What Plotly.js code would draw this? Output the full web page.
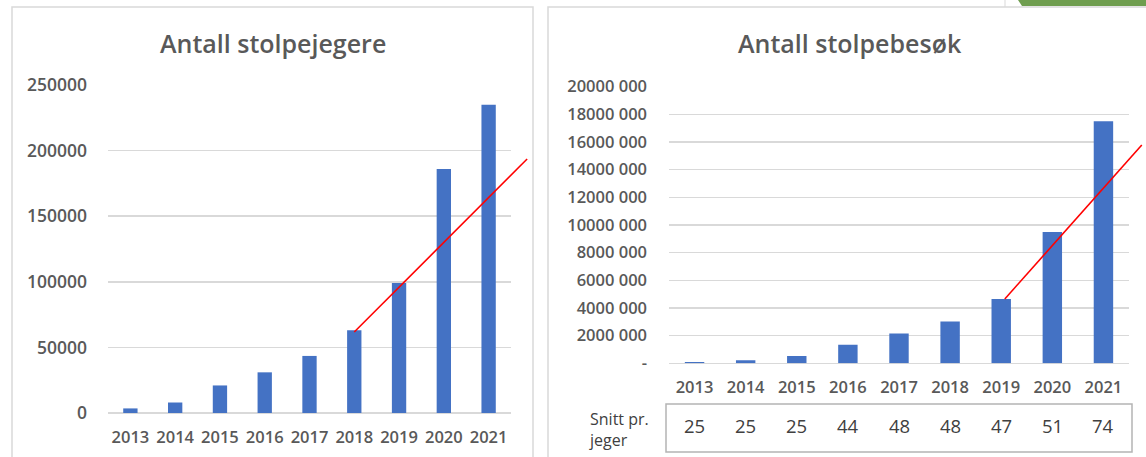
<!DOCTYPE html>
<html>
<head>
<meta charset="utf-8">
<script src="https://cdn.plot.ly/plotly-3.0.1.min.js"></script>
<style>
  html, body { margin: 0; padding: 0; background: #ffffff; }
  #chart { width: 1146px; height: 457px; }
</style>
</head>
<body>
<div id="chart"></div>
<script>
// ---- data ----
const years = [2013, 2014, 2015, 2016, 2017, 2018, 2019, 2020, 2021];
const hunters = [3500, 8000, 21000, 31000, 43500, 63000, 99000, 186000, 235000];
const visits = [90000, 220000, 525000, 1350000, 2150000, 3030000, 4650000, 9500000, 17500000];
const avgPerHunter = [25, 25, 25, 44, 48, 48, 47, 51, 74];

// hand-drawn red trend lines (data units: year, value)
const trendHuntersX = [2018.0, 2021.86];
const trendHuntersY = [61700, 193600];
const trendVisitsX = [2019.07, 2021.75];
const trendVisitsY = [4650000, 15780000];

// tick labels
const leftTickVals = [0, 50000, 100000, 150000, 200000, 250000];
const leftTickText = ["0", "50000", "100000", "150000", "200000", "250000"];
const rightTickVals = [0, 2000000, 4000000, 6000000, 8000000, 10000000, 12000000, 14000000, 16000000, 18000000, 20000000];
const rightTickText = ["-", "2000 000", "4000 000", "6000 000", "8000 000", "10000 000", "12000 000", "14000 000", "16000 000", "18000 000", "20000 000"];

const leftTitle = "Antall stolpejegere";
const rightTitle = "Antall stolpebesøk";
const tableLabel = "Snitt pr.<br>jeger";

// ---- layout helpers (pixel -> paper) ----
const W = 1146, H = 457;
const px = v => v / W;
const py = v => 1 - v / H;

const FONT = "Open Sans, Lato, sans-serif";
const GREY = "#595959";
const GRID = "#d9d9d9";
const BAR = "#4472c4";

// plot areas in pixels
const L = { x0: 108, x1: 511, y0: 413, y1: 85, ext: 545 };
const R = { x0: 669, x1: 1129, y0: 363.3, y1: 86.7, ext: 1146 };
const xRange = [2012.5, 2021.5];
// extended (unclipped) x-range for the overlay axes that carry the red lines
const extRange = (P) => [xRange[0], xRange[0] + (P.ext - P.x0) * (xRange[1] - xRange[0]) / (P.x1 - P.x0)];

const traces = [
  { type: "bar", x: years, y: hunters, xaxis: "x", yaxis: "y", width: 0.32,
    marker: { color: BAR }, hoverinfo: "x+y" },
  { type: "bar", x: years, y: visits, xaxis: "x2", yaxis: "y2", width: 0.38,
    marker: { color: BAR }, hoverinfo: "x+y" },
  { type: "scatter", mode: "lines", x: trendHuntersX, y: trendHuntersY, xaxis: "x3", yaxis: "y3",
    line: { color: "#ff0000", width: 1.6 }, hoverinfo: "skip" },
  { type: "scatter", mode: "lines", x: trendVisitsX, y: trendVisitsY, xaxis: "x4", yaxis: "y4",
    line: { color: "#ff0000", width: 1.6 }, hoverinfo: "skip" }
];

const tickFont = { family: FONT, size: 16.5, color: GREY, weight: 600 };
const yTickFontL = { family: FONT, size: 17.5, color: GREY, weight: 600 };
const yTickFontR = { family: FONT, size: 16.5, color: GREY, weight: 600 };

const annotations = [
  { text: leftTitle, xref: "paper", yref: "paper", x: px(273), y: py(43), showarrow: false,
    xanchor: "center", yanchor: "middle", font: { family: FONT, size: 25, color: GREY, weight: 600 } },
  { text: rightTitle, xref: "paper", yref: "paper", x: px(850), y: py(43), showarrow: false,
    xanchor: "center", yanchor: "middle", font: { family: FONT, size: 25, color: GREY, weight: 600 } },
  { text: tableLabel, xref: "paper", yref: "paper", x: px(587), y: py(429), showarrow: false,
    xanchor: "left", yanchor: "middle", align: "left",
    font: { family: FONT, size: 16, color: "#404040" } }
];
avgPerHunter.forEach((v, i) => {
  annotations.push({ text: String(v), xref: "x2", yref: "paper", x: years[i], y: py(425),
    showarrow: false, xanchor: "center", yanchor: "middle",
    font: { family: FONT, size: 18.5, color: "#404040" } });
});

const shapes = [
  { type: "rect", xref: "paper", yref: "paper", x0: px(12), x1: px(533), y0: -0.05, y1: py(7),
    line: { color: GRID, width: 1.5 }, layer: "below" },
  { type: "rect", xref: "paper", yref: "paper", x0: px(548), x1: 1.05, y0: -0.05, y1: py(7),
    line: { color: GRID, width: 1.5 }, layer: "below" },
  { type: "line", xref: "paper", yref: "paper", x0: px(1005), x1: px(1005), y0: 1, y1: py(7),
    line: { color: GRID, width: 1 } },
  { type: "path", xref: "paper", yref: "paper",
    path: `M ${px(1018)},1 L ${px(1022)},${py(6)} L 1,${py(6)} L 1,1 Z`,
    fillcolor: "#6f9e4f", line: { width: 0 } },
  { type: "rect", xref: "paper", yref: "paper", x0: px(666), x1: px(1132), y0: py(452), y1: py(404),
    line: { color: "#b4b4b4", width: 1.5 } }
];

const hidden = { visible: false, fixedrange: true };

const layout = {
  width: W, height: H,
  margin: { l: 0, r: 0, t: 0, b: 0 },
  paper_bgcolor: "#ffffff", plot_bgcolor: "rgba(0,0,0,0)",
  showlegend: false,
  font: { family: FONT, color: GREY },
  xaxis: { domain: [px(L.x0), px(L.x1)], anchor: "y", range: xRange,
    tickvals: years, ticktext: years.map(String), showgrid: false, zeroline: false, showline: false,
    ticks: "", ticklabelstandoff: 12, tickfont: tickFont, fixedrange: true },
  yaxis: { domain: [py(L.y0), py(L.y1)], anchor: "x", range: [0, 250000],
    tickvals: leftTickVals, ticktext: leftTickText, showgrid: true, gridcolor: GRID, gridwidth: 1.5,
    zeroline: true, zerolinecolor: GRID, zerolinewidth: 1.5, showline: false, ticks: "",
    ticklabelstandoff: 20, tickfont: yTickFontL, fixedrange: true },
  xaxis2: { domain: [px(R.x0), px(R.x1)], anchor: "y2", range: xRange,
    tickvals: years, ticktext: years.map(String), showgrid: false, zeroline: false, showline: false,
    ticks: "", ticklabelstandoff: 12, tickfont: tickFont, fixedrange: true },
  yaxis2: { domain: [py(R.y0), py(R.y1)], anchor: "x2", range: [0, 20000000],
    tickvals: rightTickVals, ticktext: rightTickText, showgrid: true, gridcolor: GRID, gridwidth: 1.5,
    zeroline: true, zerolinecolor: GRID, zerolinewidth: 1.5, showline: false, ticks: "",
    ticklabelstandoff: 21, tickfont: yTickFontR, fixedrange: true },
  xaxis3: Object.assign({ domain: [px(L.x0), px(L.ext)], anchor: "y3", range: extRange(L) }, hidden),
  yaxis3: Object.assign({ domain: [py(L.y0), py(L.y1)], anchor: "x3", range: [0, 250000] }, hidden),
  xaxis4: Object.assign({ domain: [px(R.x0), px(R.ext)], anchor: "y4", range: extRange(R) }, hidden),
  yaxis4: Object.assign({ domain: [py(R.y0), py(R.y1)], anchor: "x4", range: [0, 20000000] }, hidden),
  annotations: annotations,
  shapes: shapes
};

Plotly.newPlot("chart", traces, layout, { displayModeBar: false, staticPlot: true });
</script>
</body>
</html>
